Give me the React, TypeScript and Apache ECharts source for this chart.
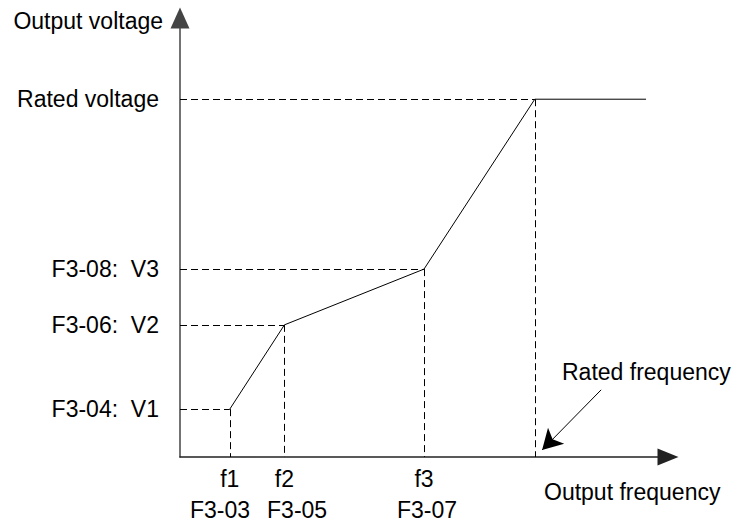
import React, { useEffect, useRef } from "react";
import * as echarts from "echarts";

const freqLabels = ["f1", "f2", "f3"];
const freqValues = [10.2, 21.4, 50];
const paramLabels = ["F3-03", "F3-05", "F3-07"];
const paramLabelPos = [8.2, 24.0, 50.6];
const ratedFreq = 72.7;
const endFreq = 95.5;
const voltLabels = ["F3-04:\u00a0\u00a0V1", "F3-06:\u00a0\u00a0V2", "F3-08:\u00a0\u00a0V3", "Rated voltage"];
const voltValues = [10.9, 30.1, 42.8, 81.5];
const ratedFreqArrowStart = [86.3, 15.3];
const ratedFreqArrowEnd = [74.2, 1.6];

const FONT = "'Liberation Sans', Arial, sans-serif";

export default function App() {
  const ref = useRef<HTMLDivElement>(null);
  useEffect(() => {
    const chart = echarts.init(ref.current!, undefined, { renderer: "svg" });
    const ratedV = voltValues[3];
    const pts = [
      [freqValues[0], voltValues[0]],
      [freqValues[1], voltValues[1]],
      [freqValues[2], voltValues[2]],
      [ratedFreq, ratedV],
      [endFreq, ratedV],
    ];
    const allX = [freqValues[0], freqValues[1], freqValues[2], ratedFreq];
    const allY = [voltValues[0], voltValues[1], voltValues[2], ratedV];
    const dashData: any[] = [];
    for (let i = 0; i < 4; i++) {
      dashData.push([{ coord: [0, allY[i]] }, { coord: [allX[i], allY[i]] }]);
      dashData.push([{ coord: [allX[i], allY[i]] }, { coord: [allX[i], 0] }]);
    }
    const labelMap: Record<string, string> = {};
    voltValues.forEach((v, i) => (labelMap[String(v)] = voltLabels[i]));
    const xMap: Record<string, string> = {};
    freqValues.forEach((v, i) => (xMap[String(v)] = freqLabels[i]));
    const pMap: Record<string, string> = {};
    paramLabelPos.forEach((v, i) => (pMap[String(v)] = paramLabels[i]));
    const labelBase = {
      showMinLabel: true,
      showMaxLabel: true,
      hideOverlap: false,
      color: "#000",
      fontFamily: FONT,
      fontSize: 23,
    };
    chart.setOption({
      animation: false,
      backgroundColor: "#fff",
      grid: { left: 180, top: 18, width: 488, height: 439 },
      xAxis: [
        {
          type: "value",
          min: 0,
          max: 100,
          splitLine: { show: false },
          axisTick: { show: false },
          axisLine: {
            lineStyle: { color: "#222", width: 1.5 },
            symbol: ["none", "triangle"],
            symbolSize: [17, 21],
          },
          axisLabel: {
            ...labelBase,
            customValues: freqValues,
            formatter: (v: number) => xMap[String(v)] ?? "",
            margin: 10,
          },
        },
        {
          type: "value",
          position: "bottom",
          offset: 0,
          min: 0,
          max: 100,
          splitLine: { show: false },
          axisTick: { show: false },
          axisLine: { show: false },
          axisLabel: {
            ...labelBase,
            customValues: paramLabelPos,
            formatter: (v: number) => pMap[String(v)] ?? "",
            margin: 41,
          },
        },
      ],
      yAxis: {
        type: "value",
        min: 0,
        max: 100,
        splitLine: { show: false },
        axisTick: { show: false },
        axisLine: {
          lineStyle: { color: "#444", width: 1.5 },
          symbol: ["none", "triangle"],
          symbolSize: [19, 21],
        },
        axisLabel: {
          ...labelBase,
          customValues: voltValues,
          formatter: (v: number) => labelMap[String(v)] ?? "",
          margin: 21,
        },
      },
      graphic: [
        {
          type: "text",
          right: 739 - 163,
          top: 9,
          style: { text: "Output voltage", font: `23px ${FONT}`, fill: "#000" },
        },
        {
          type: "text",
          left: 544,
          top: 480,
          style: { text: "Output frequency", font: `23px ${FONT}`, fill: "#000" },
        },
        {
          type: "text",
          left: 562,
          top: 360,
          style: { text: "Rated frequency", font: `23px ${FONT}`, fill: "#000" },
        },
      ],
      series: [
        {
          type: "line",
          data: pts,
          symbol: "none",
          lineStyle: { color: "#000", width: 1 },
          silent: true,
          markLine: {
            silent: true,
            symbol: "none",
            label: { show: false },
            lineStyle: { color: "#000", width: 1, type: [7, 4] },
            data: dashData,
          },
          z: 3,
        },
        {
          type: "line",
          data: [],
          markLine: {
            silent: true,
            label: { show: false },
            symbol: ["none", "arrow"],
            symbolSize: [17, 20],
            lineStyle: { color: "#000", width: 1, type: "solid" },
            itemStyle: { color: "#000" },
            data: [[{ coord: ratedFreqArrowStart }, { coord: ratedFreqArrowEnd }]],
          },
        },
      ],
    });
    return () => chart.dispose();
  }, []);
  return (
    <div
      ref={ref}
      style={{ position: "fixed", left: 0, top: 0, width: 739, height: 523 }}
    />
  );
}
